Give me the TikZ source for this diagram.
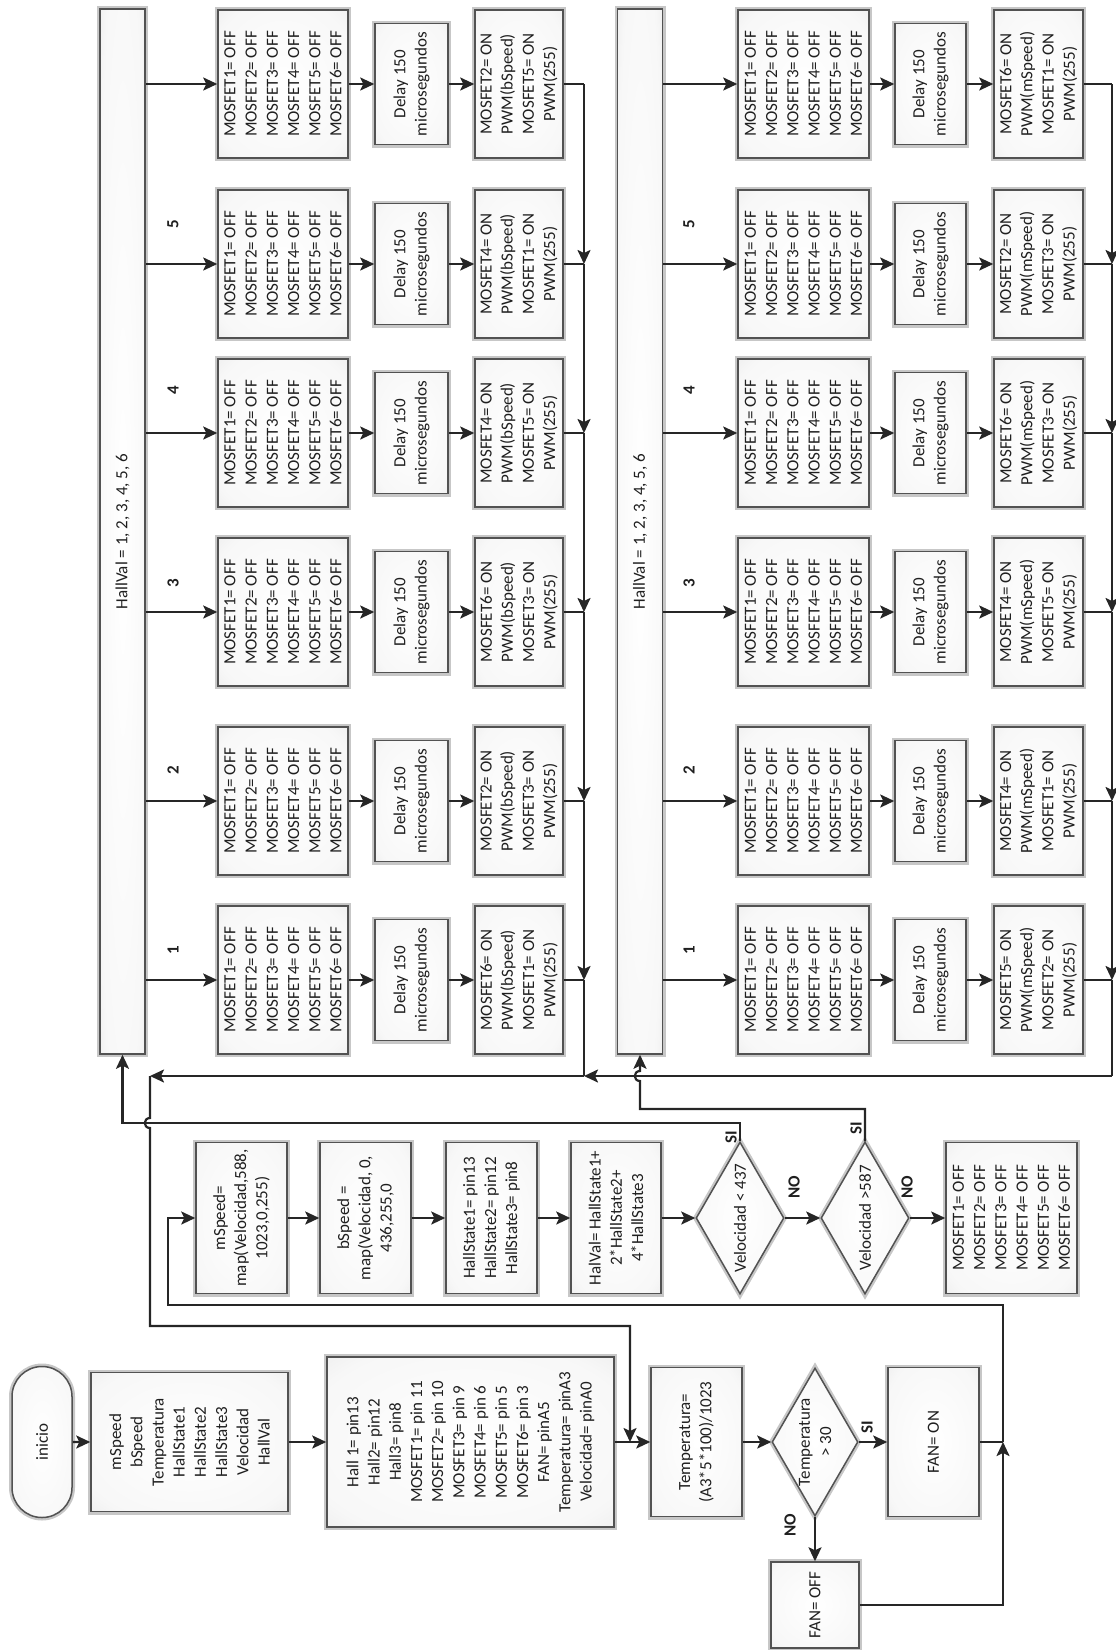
\documentclass[tikz,border=0pt]{standalone}
\usepackage{fontspec}
\setmainfont{Carlito}
\usetikzlibrary{arrows.meta,shapes.geometric,shapes.misc}
\newcommand\fs{\fontsize{17}{21.2}\selectfont}
\pgfdeclareradialshading{boxglow}{\pgfpoint{0bp}{0bp}}{color(0bp)=(white); color(30bp)=(black!3); color(44bp)=(black!10); color(50bp)=(black!22)}
\begin{document}
\begin{tikzpicture}[x=1pt,y=-1pt,
  base/.style={rotate=90, draw=black!68, line width=1.5pt, shading=boxglow,
    preaction={draw=black!22, line width=6pt}, align=center, inner sep=0pt, font=\fs, text=black!88},
  bx/.style 2 args={base, minimum height=#1, minimum width=#2},
  dm/.style 2 args={base, diamond, shape aspect=1.75, minimum height=#1, minimum width=#2},
  barbox/.style={bx={45}{1045}},
  offb/.style={bx={130}{148}},
  dly/.style={bx={73}{121}},
  onb/.style={bx={88}{148}},
  lab/.style={rotate=90, font=\fs\bfseries, inner sep=1pt, text=black!88},
  ln/.style={line width=2.2pt, draw=black!85},
  arr/.style={ln, -{Stealth[length=14pt, width=13pt, inset=3pt]}}
]
\useasboundingbox (0,0) rectangle (1116,1650);

% ---------- state machine, section 1 (bSpeed) ----------
\node[barbox] (bar1) at (122.5,531.5) {HallVal = 1, 2, 3, 4, 5, 6};
\foreach \r/\y/\ta/\tb in {1/980/6/1,2/801/2/3,3/612/6/3,4/433/4/5,5/264/4/1,6/84/2/5}{
  \node[offb] (ma\r) at (283,\y) {MOSFET1= OFF\\MOSFET2= OFF\\MOSFET3= OFF\\MOSFET4= OFF\\MOSFET5= OFF\\MOSFET6= OFF};
  \node[dly] (da\r) at (411.5,\y) {Delay 150\\microsegundos};
  \node[onb] (oa\r) at (519,\y) {MOSFET\ta= ON\\PWM(bSpeed)\\MOSFET\tb= ON\\PWM(255)};
  \coordinate (ja\r) at (584,\y);
  \draw[arr] (bar1.south |- ma\r) -- (ma\r);
  \draw[arr] (ma\r) -- (da\r);
  \draw[arr] (da\r) -- (oa\r);
  \draw[ln] (oa\r) -- (ja\r);
}
\foreach \r/\y in {1/950,2/770,3/583,4/390,5/224}{
  \node[lab] (la\r) at (173,\y) {\r};
}
\draw[arr] (ja6) -- (ja5);
\draw[arr] (ja5) -- (ja4);
\draw[arr] (ja4) -- (ja3);
\draw[arr] (ja3) -- (ja2);
\draw[arr] (ja2) -- (ja1);

% ---------- state machine, section 2 (mSpeed) ----------
\node[barbox] (bar2) at (640,531.5) {HallVal = 1, 2, 3, 4, 5, 6};
\foreach \r/\y/\ta/\tb in {1/980/5/2,2/801/4/1,3/612/4/5,4/433/6/3,5/264/2/3,6/84/6/1}{
  \node[bx={131}{148}] (mb\r) at (803.5,\y) {MOSFET1= OFF\\MOSFET2= OFF\\MOSFET3= OFF\\MOSFET4= OFF\\MOSFET5= OFF\\MOSFET6= OFF};
  \node[bx={71}{121}] (db\r) at (930.5,\y) {Delay 150\\microsegundos};
  \node[bx={89}{148}] (ob\r) at (1038.5,\y) {MOSFET\ta= ON\\PWM(mSpeed)\\MOSFET\tb= ON\\PWM(255)};
  \coordinate (jb\r) at (1112,\y);
  \draw[arr] (bar2.south |- mb\r) -- (mb\r);
  \draw[arr] (mb\r) -- (db\r);
  \draw[arr] (db\r) -- (ob\r);
  \draw[ln] (ob\r) -- (jb\r);
}
\foreach \r/\y in {1/950,2/770,3/583,4/390,5/224}{
  \node[lab] (lb\r) at (689,\y) {\r};
}
\draw[arr] (jb6) -- (jb5);
\draw[arr] (jb5) -- (jb4);
\draw[arr] (jb4) -- (jb3);
\draw[arr] (jb3) -- (jb2);
\draw[arr] (jb2) -- (jb1);

% ---------- lower flow ----------
\node[bx={60}{151}, rounded rectangle] (ini) at (42,1442) {inicio};
\node[bx={197}{139}] (vars) at (189.5,1442) {mSpeed\\bSpeed\\Temperatura\\HallState1\\HallState2\\HallState3\\Velocidad\\HallVal};
\node[bx={287}{170}] (hall) at (470.5,1442) {Hall 1= pin13\\Hall2= pin12\\Hall3= pin8\\MOSFET1= pin 11\\MOSFET2= pin 10\\MOSFET3= pin 9\\MOSFET4= pin 6\\MOSFET5= pin 5\\MOSFET6= pin 3\\FAN= pinA5\\Temperatura= pinA3\\Velocidad= pinA0};
\node[bx={91}{149}] (temp) at (696.5,1442) {Temperatura=\\(A3*5*100)/1023};
\node[dm={86}{148}] (dT) at (815,1442) {Temperatura\\> 30};
\node[bx={91}{149}] (fanon) at (933.5,1442) {FAN= ON};
\node[bx={88}{86}] (fanoff) at (815,1605) {FAN= OFF};

\node[bx={91}{151}] (msp) at (241.5,1218) {mSpeed=\\map(Velocidad,588,\\1023,0,255)};
\node[bx={91}{151}] (bsp) at (365.5,1218) {bSpeed =\\map(Velocidad, 0,\\436,255,0};
\node[bx={91}{151}] (hst) at (491.5,1218) {HallState1= pin13\\HallState2= pin12\\HallState3= pin8};
\node[bx={90}{151}] (hv) at (616,1218) {HalVal= HallState1+\\2*HallState2+\\4*HallState3};
\node[dm={88}{152}] (d1) at (740,1218) {Velocidad < 437};
\node[dm={88}{152}] (d2) at (865,1218) {Velocidad >587};
\node[bx={131}{151}] (moff) at (1011.5,1218) {MOSFET1= OFF\\MOSFET2= OFF\\MOSFET3= OFF\\MOSFET4= OFF\\MOSFET5= OFF\\MOSFET6= OFF};

\node[lab] (siT) at (867,1427) {SI};
\node[lab] (noT) at (790,1525) {NO};
\node[lab] (si1) at (731,1137) {SI};
\node[lab] (si2) at (856,1128) {SI};
\node[lab] (no1) at (794,1187) {NO};
\node[lab] (no2) at (907,1187) {NO};

% ---------- coordinates ----------
\coordinate (c0) at (150,1076);
\coordinate (c1) at (584,1076);
\coordinate (c2) at (1112,1076);
\coordinate (k1) at (122.5,1123);
\coordinate (k2) at (640,1109);
\coordinate (l1) at (168,1305);
\coordinate (l2) at (150,1326);
\coordinate (tin) at (630,1442);
\coordinate (jf) at (1003,1442);
\coordinate (h1a) at (150,1118);
\coordinate (h1b) at (150,1128);
\coordinate (h2a) at (640,1081);
\coordinate (h2b) at (640,1071);

% ---------- connectors ----------
\draw[ln] (ja1) -- (c1);
\draw[ln] (jb1) -- (c2);
\draw[arr] (c2) -- (c1);
\draw[arr] (c1) -- (c0);
\draw[arr] (c0) -- (h1a) .. controls (143,1118) and (143,1128) .. (h1b) -- (l2) -| (tin);
\draw[arr] (d1.east) |- (k1) -- (bar1.west);
\draw[arr] (d2.east) |- (k2) -- (h2a) .. controls (633,1081) and (633,1071) .. (h2b) -- (bar2.west);

\draw[arr] (ini) -- (vars);
\draw[arr] (vars) -- (hall);
\draw[arr] (hall) -- (temp);
\draw[arr] (temp) -- (dT);
\draw[arr] (dT) -- (fanon);
\draw[arr] (dT.west) -- (fanoff);
\draw[arr] (fanoff.south) -| (jf);
\draw[ln] (fanon) -- (jf);
\draw[arr] (jf) |- (l1) |- (msp);

\draw[arr] (msp) -- (bsp);
\draw[arr] (bsp) -- (hst);
\draw[arr] (hst) -- (hv);
\draw[arr] (hv) -- (d1);
\draw[arr] (d1) -- (d2);
\draw[arr] (d2) -- (moff);
\end{tikzpicture}
\end{document}
